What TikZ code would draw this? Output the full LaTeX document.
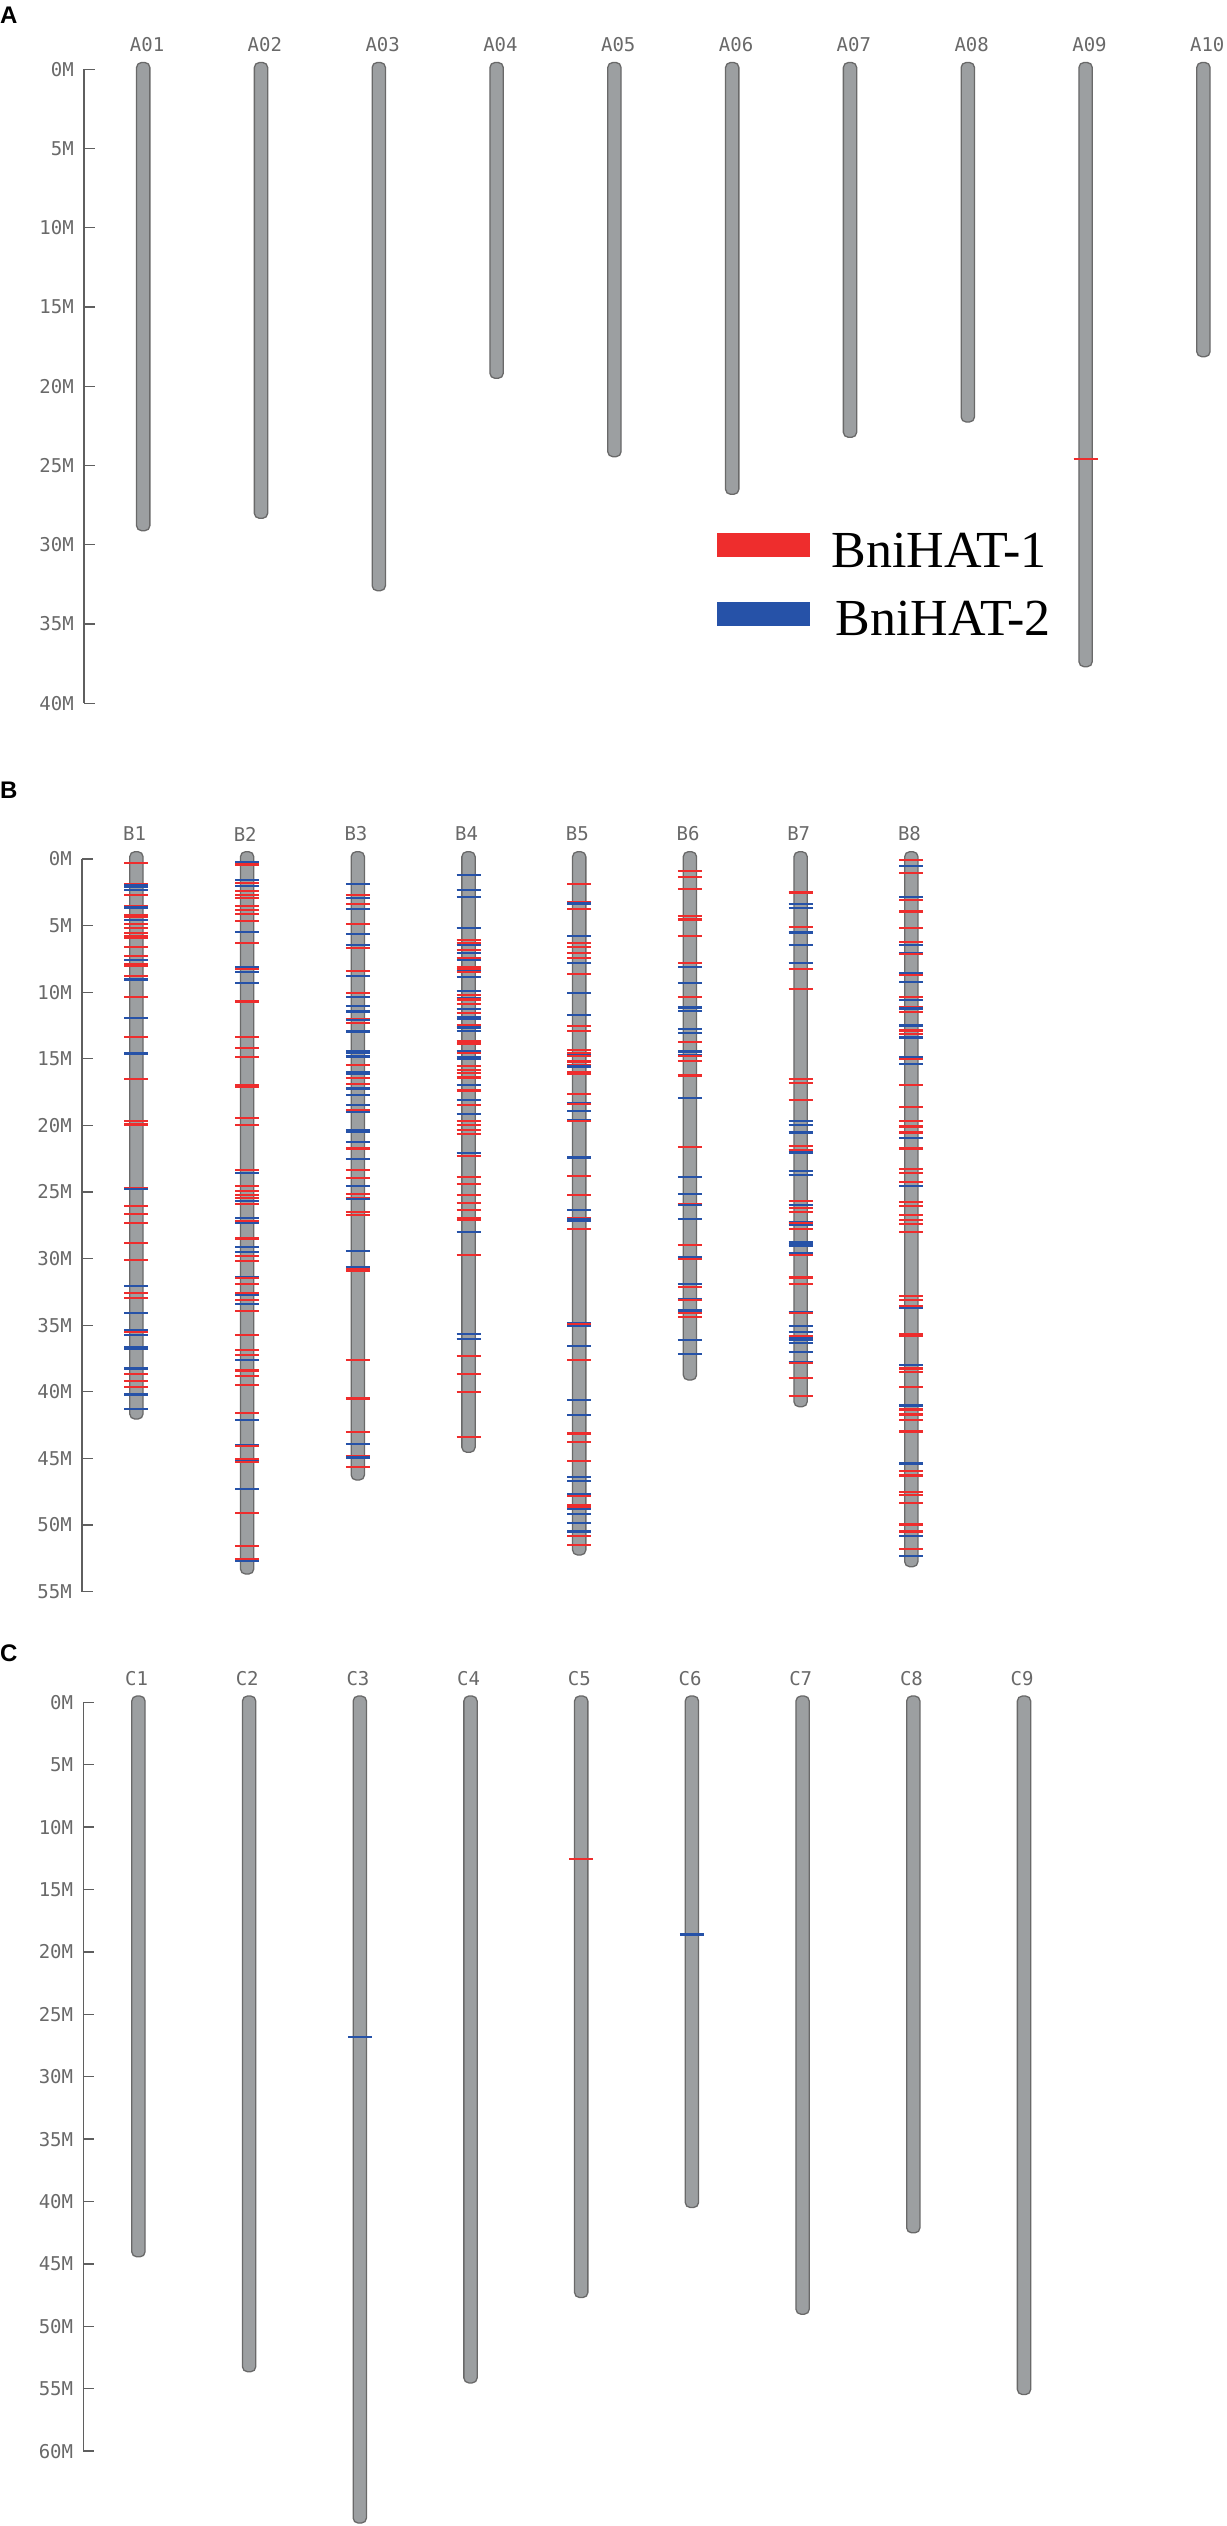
\documentclass[tikz,border=0pt]{standalone}
\usepackage{fontspec}
\newfontfamily\monofnt{DejaVu Sans Mono}
\newfontfamily\serifnt{Liberation Serif}
\newfontfamily\sansfnt{Liberation Sans}
\definecolor{chrfill}{RGB}{156,159,161}
\definecolor{chrline}{RGB}{105,105,105}
\definecolor{mred}{RGB}{238,45,45}
\definecolor{mblue}{RGB}{38,82,168}
\definecolor{axgray}{RGB}{95,95,95}
\definecolor{txgray}{RGB}{105,105,105}
\colorlet{r}{mred}
\colorlet{b}{mblue}
\tikzset{
  chrom/.style={draw=chrline, fill=chrfill, line width=1.3pt, minimum width=13.3pt,
    rounded corners=5pt, inner sep=0pt, outer sep=0pt, anchor=north},
  mk/.style={line width=2.1pt, draw=#1},
  axline/.style={draw=axgray, line width=1.3pt, line cap=square},
  axlab/.style={font=\monofnt\fontsize{19}{21}\selectfont, text=txgray, anchor=east, inner sep=0pt},
  chrlab/.style={font=\monofnt\fontsize{19}{21}\selectfont, text=txgray, anchor=west, inner sep=0pt},
  panel/.style={font=\sansfnt\bfseries\fontsize{24}{26}\selectfont, anchor=base west, inner sep=0pt},
  legtext/.style={font=\serifnt\fontsize{52}{56}\selectfont, anchor=base west, inner sep=0pt},
  legbox/.style={minimum width=93.4pt, minimum height=24pt, inner sep=0pt, outer sep=0pt, draw=none}
}
% axis: prefix, x, y0, px per M, max
\newcommand\drawaxis[5]{%
  \draw[axline] (#2,#3) -- (#2,{#3+#4*#5});
  \foreach \val in {0,5,...,#5}{%
    \draw[axline] (#2,{#3+#4*\val}) -- ++(11,0);
    \node[axlab] (#1\val) at ({#2-10},{#3+#4*\val}) {\val M};
  }}
% chromosome: name, x, top, bottom, label y
\newcommand\drawchrom[5]{%
  \node[chrom, minimum height={#4-#3}] (#1) at (#2,#3) {};
  \node[chrlab] (l#1) at ({#2-13.5},#5) {#1};}
% marks: x, y0, px per M, list
\newcommand\drawmarks[4]{%
  \foreach \mpos/\mcol in {#4}{\draw[mk=\mcol] ({#1-12},{#2+#3*\mpos}) -- ++(24,0);}}
\begin{document}
\begin{tikzpicture}[x=1pt,y=-1pt]
\useasboundingbox (0,0) rectangle (1226,2526);
\fill[white] (0,0) rectangle (1226,2526);
% ---------------- Panel A
\node[panel] (pA) at (0,24) {A};
\drawaxis{axA}{84}{69.3}{15.85}{40}
\drawchrom{A01}{143.2}{62.5}{530.7}{44.5}
\drawchrom{A02}{261}{62.5}{518.3}{44.5}
\drawchrom{A03}{378.8}{62.5}{590.7}{44.5}
\drawchrom{A04}{496.6}{62.5}{378.3}{44.5}
\drawchrom{A05}{614.4}{62.5}{456.7}{44.5}
\drawchrom{A06}{732.2}{62.5}{494.3}{44.5}
\drawchrom{A07}{850}{62.5}{437.3}{44.5}
\drawchrom{A08}{967.8}{62.5}{422}{44.5}
\drawchrom{A09}{1085.6}{62.5}{666.7}{44.5}
\drawchrom{A10}{1203.4}{62.5}{356.7}{44.5}
\drawmarks{1085.6}{69.3}{15.85}{24.6/r}
% legend
\node[legbox, fill=mred] (legR) at (763.3,545.3) {};
\node[legbox, fill=mblue] (legB) at (763.3,613.9) {};
\node[legtext] (legRt) at (831.5,567.7) {BniHAT-1};
\node[legtext] (legBt) at (835.5,635) {BniHAT-2};
% ---------------- Panel B
\node[panel] (pB) at (0,798.3) {B};
\drawaxis{axB}{81.9}{859}{13.32}{55}
\drawchrom{B1}{136.4}{851.7}{1419}{834}
\drawchrom{B2}{247.1}{851.7}{1574}{834}
\drawchrom{B3}{357.8}{851.7}{1480}{834}
\drawchrom{B4}{468.5}{851.7}{1452.3}{834}
\drawchrom{B5}{579.2}{851.7}{1555}{834}
\drawchrom{B6}{689.9}{851.7}{1380}{834}
\drawchrom{B7}{800.6}{851.7}{1406.7}{834}
\drawchrom{B8}{911.3}{851.7}{1566.7}{834}
\drawmarks{136.4}{859}{13.32}{0.33/r, 1.85/r, 1.95/b, 2.05/b, 2.13/b, 2.33/b, 2.7/r, 3.5/r, 3.6/b, 3.68/b, 4.2/r, 4.33/r, 4.58/b, 4.88/r, 5.2/r, 5.58/r, 5.75/r, 5.93/r, 6.58/r, 7.25/r, 7.58/b, 7.88/r, 8.03/r, 8.78/r, 9.0/b, 9.1/b, 10.33/r, 11.95/b, 13.33/r, 14.6/b, 16.53/r, 19.68/r, 19.93/r, 24.7/r, 24.8/b, 26.08/r, 26.63/r, 27.33/r, 28.83/r, 30.1/r, 32.03/b, 32.58/r, 32.98/r, 34.1/b, 35.38/b, 35.48/r, 35.75/b, 36.65/b, 36.75/b, 38.25/b, 38.65/r, 39.2/r, 39.63/r, 40.2/b, 41.3/b}
\drawmarks{247.1}{859}{13.32}{0.2/b, 0.38/r, 0.45/r, 1.58/b, 1.83/r, 2.03/b, 2.4/r, 2.7/r, 2.95/r, 3.53/r, 3.83/r, 4.13/r, 4.63/r, 5.45/b, 6.33/r, 8.13/b, 8.23/r, 8.5/b, 9.33/b, 10.7/r, 13.33/r, 14.2/r, 14.88/r, 17.0/r, 17.1/r, 19.45/r, 19.98/r, 23.33/r, 23.58/b, 24.53/r, 24.95/r, 25.2/r, 25.45/r, 25.7/b, 25.9/r, 26.95/b, 27.15/r, 27.3/b, 28.45/r, 28.55/r, 29.15/b, 29.53/b, 29.83/r, 30.2/r, 31.38/b, 31.48/r, 31.9/r, 32.58/r, 32.7/b, 33.13/r, 33.38/b, 33.95/r, 35.75/r, 36.88/r, 37.25/r, 37.58/b, 38.4/r, 38.78/r, 39.5/r, 41.58/r, 42.13/b, 44.0/b, 44.1/r, 45.08/r, 45.18/b, 45.28/r, 47.28/b, 49.08/r, 51.58/r, 52.58/r, 52.68/b}
\drawmarks{357.8}{859}{13.32}{1.88/b, 2.7/r, 2.95/b, 3.38/r, 3.78/b, 4.9/r, 5.63/b, 6.45/b, 6.7/r, 8.38/r, 8.78/b, 10.03/r, 10.33/b, 11.03/b, 11.45/b, 12.0/r, 12.1/b, 12.33/r, 12.95/b, 14.45/b, 14.55/b, 14.83/b, 15.45/r, 16.0/b, 16.1/b, 16.45/r, 16.88/r, 17.2/b, 17.3/b, 17.7/b, 18.45/b, 18.83/r, 18.98/b, 20.38/b, 20.48/b, 21.25/b, 21.7/r, 21.8/r, 22.5/b, 23.33/r, 23.95/r, 24.58/b, 25.13/r, 25.45/r, 25.55/b, 26.5/r, 26.75/r, 29.4/b, 30.65/b, 30.75/r, 30.9/r, 37.58/r, 40.5/r, 43.0/r, 43.95/b, 44.83/r, 44.93/b, 45.63/r}
\drawmarks{468.5}{859}{13.32}{1.2/b, 2.33/b, 2.83/b, 5.2/b, 6.08/r, 6.33/r, 6.43/b, 6.83/r, 7.08/b, 7.45/r, 7.55/b, 8.08/r, 8.28/r, 8.38/b, 8.45/r, 8.83/b, 9.9/b, 10.2/r, 10.45/b, 10.55/r, 10.88/r, 11.28/b, 11.58/r, 11.88/b, 11.98/b, 12.45/r, 12.58/b, 12.68/b, 12.88/b, 13.7/r, 13.8/r, 13.9/r, 14.38/b, 14.58/r, 14.9/b, 15.0/b, 15.53/r, 15.83/r, 16.08/r, 16.4/r, 16.95/b, 17.38/r, 18.08/b, 18.45/r, 19.15/b, 19.65/r, 19.95/r, 20.33/r, 20.65/r, 22.08/b, 22.33/r, 23.88/r, 24.43/r, 25.25/r, 25.83/r, 26.38/r, 26.98/r, 27.08/r, 28.0/b, 29.7/r, 35.63/b, 36.03/b, 37.28/r, 38.65/r, 40.03/r, 43.38/r}
\drawmarks{579.2}{859}{13.32}{1.88/r, 3.2/r, 3.28/b, 3.38/b, 3.78/r, 5.75/b, 6.33/r, 6.58/r, 7.08/r, 7.45/r, 7.78/b, 8.63/r, 10.03/b, 11.7/b, 12.53/r, 12.88/r, 14.33/r, 14.53/r, 14.7/b, 14.8/r, 15.2/r, 15.45/r, 15.58/b, 16.0/r, 16.1/r, 17.65/r, 18.3/b, 18.4/r, 18.9/b, 19.6/b, 19.7/r, 22.38/b, 22.48/b, 23.78/r, 25.25/r, 26.38/b, 26.95/r, 27.05/b, 27.15/b, 27.75/r, 34.83/b, 34.93/r, 35.03/b, 36.58/b, 37.58/r, 40.63/b, 41.73/b, 43.13/r, 43.78/r, 45.2/r, 46.4/b, 46.7/b, 47.7/b, 47.8/r, 48.53/r, 48.63/r, 48.83/b, 49.15/b, 49.83/b, 50.45/b, 50.55/b, 50.83/r, 51.53/r}
\drawmarks{689.9}{859}{13.32}{0.88/r, 1.33/r, 2.28/r, 4.25/r, 4.5/r, 4.58/r, 5.75/r, 7.8/r, 8.08/b, 9.33/b, 10.33/r, 11.15/b, 11.4/b, 12.78/b, 13.08/b, 13.75/r, 14.45/b, 14.7/b, 14.8/r, 15.15/r, 16.25/r, 17.93/b, 21.65/r, 23.88/b, 25.13/b, 25.88/r, 25.98/b, 27.03/b, 29.0/r, 29.9/b, 30.0/r, 31.9/b, 32.15/r, 33.0/b, 33.1/r, 33.83/b, 33.93/b, 34.1/r, 34.38/r, 36.08/b, 37.15/b}
\drawmarks{800.6}{859}{13.32}{2.45/r, 2.55/r, 3.4/b, 3.7/b, 5.08/r, 5.48/b, 5.58/b, 6.45/b, 7.83/b, 8.25/r, 9.78/r, 16.53/r, 16.83/r, 18.08/r, 19.7/b, 19.95/b, 20.53/b, 21.53/r, 21.83/r, 22.03/b, 23.45/b, 23.75/b, 25.65/r, 25.95/b, 26.2/r, 26.5/r, 27.25/b, 27.35/r, 27.45/b, 27.78/r, 28.78/b, 28.88/b, 29.08/b, 29.6/b, 29.7/r, 31.35/r, 31.45/r, 31.9/r, 34.0/b, 34.1/r, 35.08/b, 35.48/b, 35.83/r, 35.98/b, 36.08/b, 36.33/b, 37.03/b, 37.75/b, 37.85/r, 38.95/r, 40.33/r}
\drawmarks{911.3}{859}{13.32}{0.08/r, 0.5/b, 1.03/r, 2.83/b, 3.08/r, 3.88/r, 3.98/r, 5.15/r, 6.2/r, 6.45/b, 7.03/b, 7.13/r, 8.58/b, 8.68/r, 9.2/b, 10.33/r, 10.58/b, 11.08/r, 11.18/b, 11.28/b, 11.5/r, 12.45/b, 12.55/b, 12.83/r, 12.93/r, 13.15/r, 13.4/b, 14.9/b, 15.0/r, 15.4/b, 16.95/r, 18.63/r, 19.7/r, 20.08/r, 20.53/r, 20.95/b, 21.7/r, 21.8/r, 23.28/r, 23.58/r, 24.28/r, 24.53/b, 25.78/r, 26.08/r, 26.75/r, 27.08/r, 27.38/r, 28.0/r, 32.83/r, 33.13/r, 33.58/r, 33.68/b, 35.7/r, 35.8/r, 37.98/b, 38.25/r, 38.53/r, 39.65/r, 41.03/b, 41.33/r, 41.7/r, 42.13/r, 42.98/r, 45.35/b, 45.45/b, 45.95/r, 46.28/r, 47.53/r, 47.78/r, 48.33/r, 49.9/r, 50.0/r, 50.45/r, 50.55/r, 50.83/b, 51.78/r, 52.35/b}
% ---------------- Panel C
\node[panel] (pC) at (0,1661.7) {C};
\drawaxis{axC}{83.3}{1702.3}{12.48}{60}
\drawchrom{C1}{138.4}{1696}{2256.8}{1678.5}
\drawchrom{C2}{249.1}{1696}{2371.7}{1678.5}
\drawchrom{C3}{359.8}{1696}{2523}{1678.5}
\drawchrom{C4}{470.5}{1696}{2382.9}{1678.5}
\drawchrom{C5}{581.2}{1696}{2297.5}{1678.5}
\drawchrom{C6}{691.9}{1696}{2207.5}{1678.5}
\drawchrom{C7}{802.6}{1696}{2314.2}{1678.5}
\drawchrom{C8}{913.3}{1696}{2232.8}{1678.5}
\drawchrom{C9}{1024}{1696}{2394.5}{1678.5}
\drawmarks{359.8}{1702.3}{12.48}{26.8/b}
\drawmarks{581.2}{1702.3}{12.48}{12.56/r}
\drawmarks{691.9}{1702.3}{12.48}{18.6/b}
\end{tikzpicture}
\end{document}
